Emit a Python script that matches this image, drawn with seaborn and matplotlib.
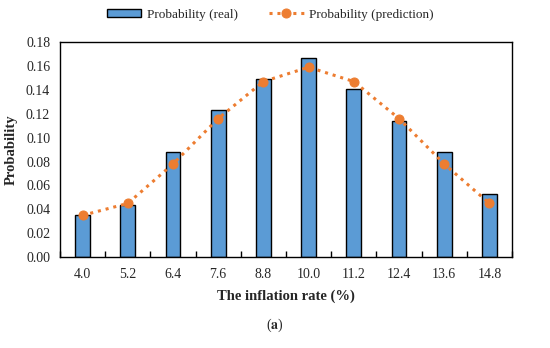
import matplotlib
matplotlib.use("Agg")
import matplotlib.pyplot as plt
import seaborn as sns
import numpy as np

categories = ["4.0", "5.2", "6.4", "7.6", "8.8", "10.0", "11.2", "12.4", "13.6", "14.8"]
prob_real = [0.035, 0.044, 0.088, 0.123, 0.149, 0.167, 0.141, 0.114, 0.088, 0.053]
prob_pred = [0.035, 0.045, 0.078, 0.116, 0.147, 0.159, 0.147, 0.116, 0.078, 0.045]
y_ticks = [0.00, 0.02, 0.04, 0.06, 0.08, 0.10, 0.12, 0.14, 0.16, 0.18]

sns.set_theme(style="white")
plt.rcParams["font.family"] = ["Liberation Serif", "DejaVu Serif"]
plt.rcParams["mathtext.fontset"] = "stix"

fig = plt.figure(figsize=(5.5, 3.48), dpi=100)
ax = fig.add_axes([0.109, 0.261, 0.822, 0.618])

sns.barplot(x=categories, y=prob_real, width=0.33, color="#5B9BD5", saturation=1,
            edgecolor="black", linewidth=1.0, ax=ax, label="Probability (real)")
sns.lineplot(x=np.arange(len(categories)), y=prob_pred, ax=ax, color="#ED7D31",
             linestyle=(0, (1, 1.6)), linewidth=2.2, marker="o", markersize=6.5,
             markeredgecolor="#ED7D31", label="Probability (prediction)")

ax.set_xlim(-0.5, len(categories) - 0.5)
ax.set_ylim(0, 0.18)
ax.set_yticks(y_ticks)
ax.set_yticklabels([f"{v:.2f}" for v in y_ticks], fontsize=10)
ax.set_xticks(range(len(categories)))
ax.set_xticklabels(categories, fontsize=10)
ax.set_xticks(np.arange(-0.5, len(categories), 1.0), minor=True)
ax.tick_params(axis="x", which="major", length=0, pad=8)
ax.tick_params(axis="x", which="minor", direction="in", length=4, width=1, color="black", bottom=True)
ax.tick_params(axis="y", length=0, pad=7)
for s in ax.spines.values():
    s.set_color("black")
    s.set_linewidth(1.0)

ax.set_xlabel("The inflation rate (%)", fontsize=10.5, fontweight="bold", labelpad=6)
ax.set_ylabel("Probability", fontsize=10.5, fontweight="bold", labelpad=6)

handles, labels = ax.get_legend_handles_labels()
order = [labels.index("Probability (real)"), labels.index("Probability (prediction)")]
ax.legend([handles[i] for i in order], [labels[i] for i in order],
          loc="lower center", bbox_to_anchor=(0.465, 1.045), ncol=2, frameon=False,
          fontsize=9.5, handlelength=2.6, handleheight=0.5, columnspacing=2.4, handletextpad=0.4)

fig.text(0.5, 0.065, r"($\mathbf{a}$)", ha="center", va="center", fontsize=10)

fig.savefig("out.png", dpi=100)
